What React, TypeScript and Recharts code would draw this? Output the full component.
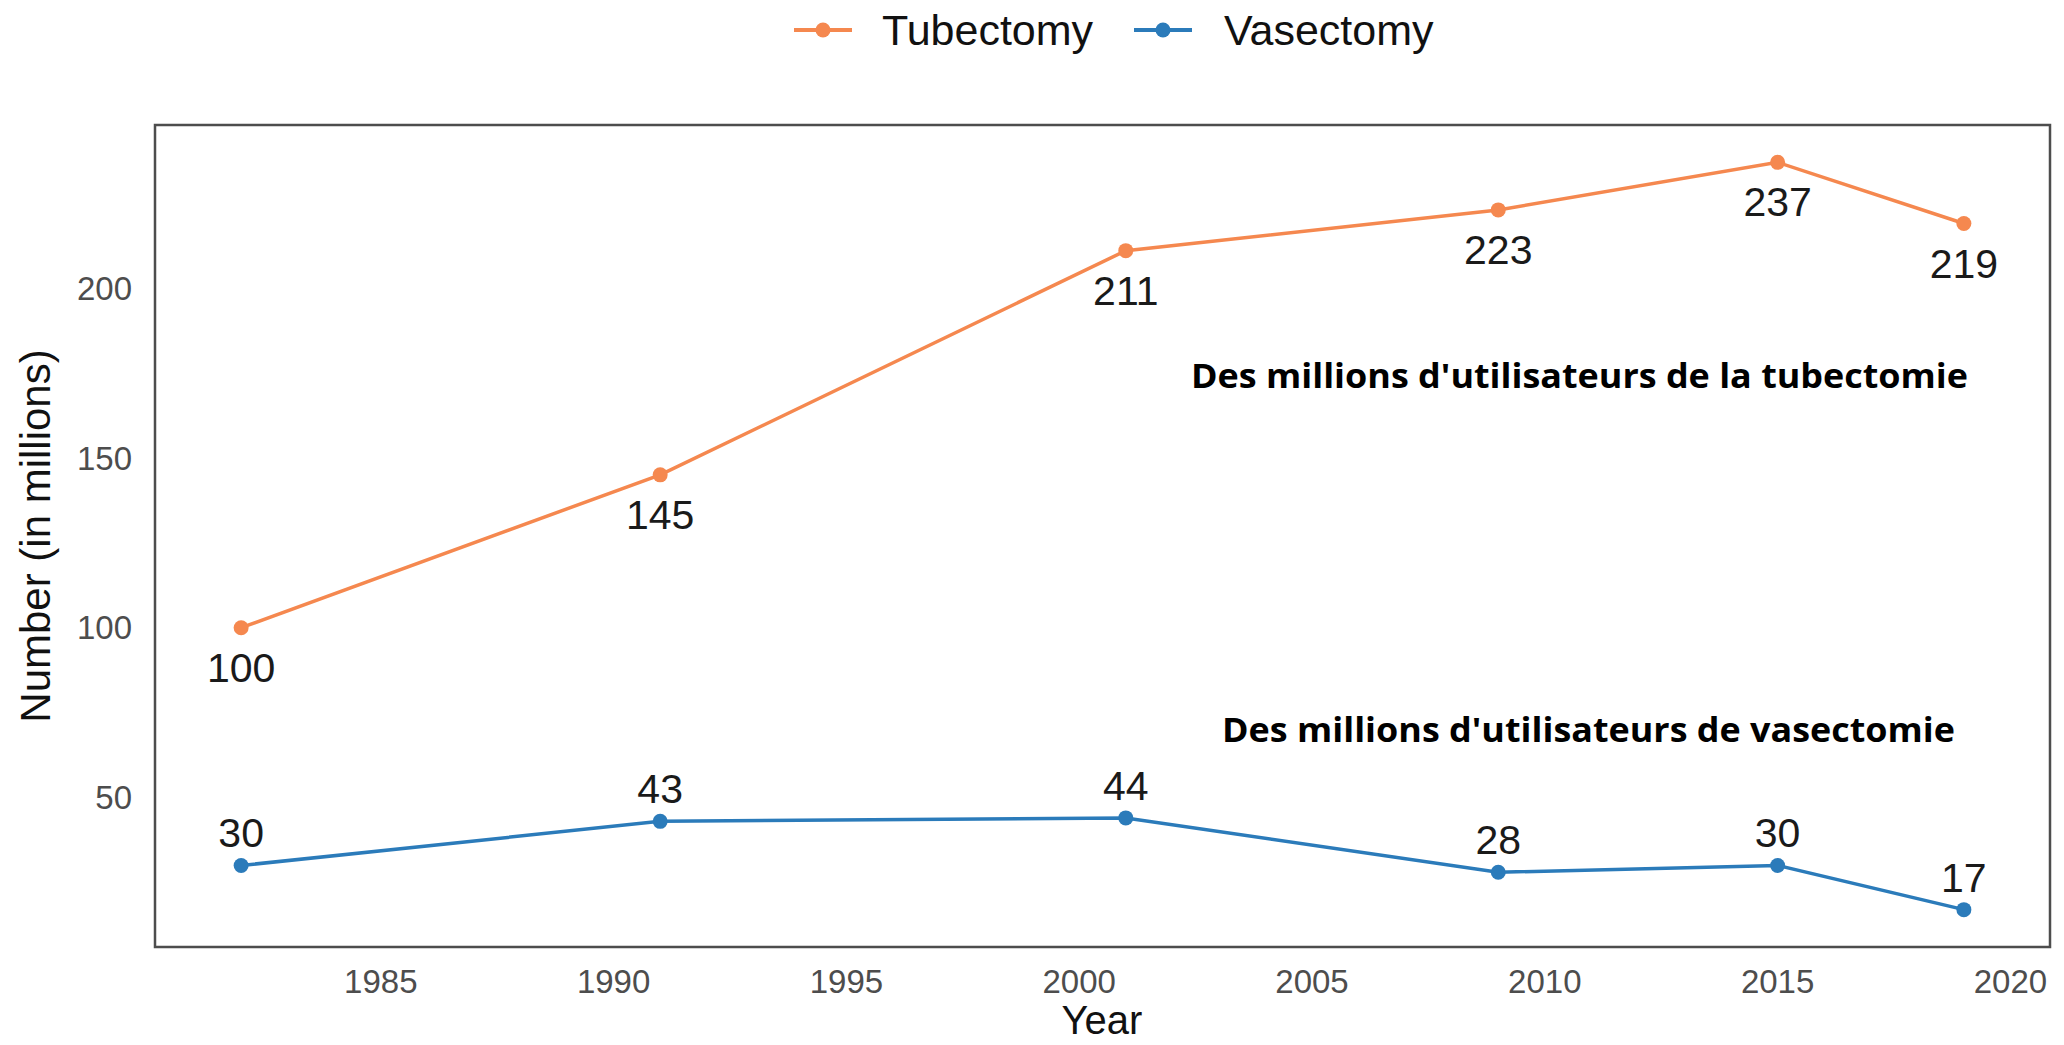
import { LineChart, Line, XAxis, YAxis, ReferenceArea, LabelList } from "recharts";

const years = [1982, 1991, 2001, 2009, 2015, 2019];
const tubectomy = [100, 145, 211, 223, 237, 219];
const vasectomy = [30, 43, 44, 28, 30, 17];
const xTicks = [1985, 1990, 1995, 2000, 2005, 2010, 2015, 2020];
const yTicks = [50, 100, 150, 200];
const xDomain: [number, number] = [1980.15, 2020.85];
const yDomain: [number, number] = [6, 248];

const ORANGE = "#F5884F";
const BLUE = "#2B7BBA";
const SANS = "'Liberation Sans', Arial, Helvetica, sans-serif";

const data = years.map((year, i) => ({
  year,
  tubectomy: tubectomy[i],
  vasectomy: vasectomy[i],
}));

// value labels: orange below the point, blue above
const makeLabel = (dy: number) => (props: any) => {
  const x = props.x ?? props.viewBox?.x;
  const y = props.y ?? props.viewBox?.y;
  return (
    <text x={x} y={y + dy} textAnchor="middle" fontSize={41} fill="#1a1a1a" fontFamily={SANS}>
      {props.value}
    </text>
  );
};

export default function App() {
  return (
    <div style={{ position: "absolute", left: 0, top: 0, width: 2064, height: 1045, background: "#fff" }}>
      <LineChart width={2064} height={1045} data={data} margin={{ top: 125, right: 14, bottom: 38, left: 75 }}>
        <ReferenceArea
          x1={xDomain[0]}
          x2={xDomain[1]}
          y1={yDomain[0]}
          y2={yDomain[1]}
          fill="none"
          stroke="#4d4d4d"
          strokeWidth={2.5}
        />
        <XAxis
          dataKey="year"
          type="number"
          domain={xDomain}
          ticks={xTicks}
          allowDataOverflow
          axisLine={false}
          tickLine={false}
          tickSize={6}
          tickMargin={17}
          height={60}
          tick={{ fontSize: 33, fill: "#4d4d4d", fontFamily: SANS }}
        />
        <YAxis
          type="number"
          domain={yDomain}
          ticks={yTicks}
          allowDataOverflow
          axisLine={false}
          tickLine={false}
          tickSize={6}
          tickMargin={17}
          width={80}
          tick={{ fontSize: 33, fill: "#4d4d4d", fontFamily: SANS }}
        />
        <Line
          dataKey="tubectomy"
          stroke={ORANGE}
          strokeWidth={3.5}
          dot={{ r: 7.5, fill: ORANGE, stroke: "none" }}
          isAnimationActive={false}
        >
          <LabelList dataKey="tubectomy" content={makeLabel(54)} />
        </Line>
        <Line
          dataKey="vasectomy"
          stroke={BLUE}
          strokeWidth={3.5}
          dot={{ r: 7.5, fill: BLUE, stroke: "none" }}
          isAnimationActive={false}
        >
          <LabelList dataKey="vasectomy" content={makeLabel(-18)} />
        </Line>
      </LineChart>

      <svg
        width={2064}
        height={1045}
        style={{ position: "absolute", left: 0, top: 0, pointerEvents: "none" }}
      >
        {/* legend */}
        <line x1={794} x2={852} y1={30} y2={30} stroke={ORANGE} strokeWidth={4} />
        <circle cx={823} cy={30} r={7.5} fill={ORANGE} />
        <text x={882} y={45} fontSize={43} fill="#111" fontFamily={SANS}>Tubectomy</text>
        <line x1={1134} x2={1192} y1={30} y2={30} stroke={BLUE} strokeWidth={4} />
        <circle cx={1163} cy={30} r={7.5} fill={BLUE} />
        <text x={1224} y={45} fontSize={43} fill="#111" fontFamily={SANS}>Vasectomy</text>

        {/* axis titles */}
        <text x={1102} y={1034} textAnchor="middle" fontSize={40} fill="#111" fontFamily={SANS}>Year</text>
        <text
          x={0}
          y={0}
          transform="translate(50 536) rotate(-90)"
          textAnchor="middle"
          fontSize={42}
          fill="#111"
          fontFamily={SANS}
        >
          Number (in millions)
        </text>

        {/* annotations */}
        <text
          x={1191}
          y={388}
          fontSize={34}
          fontWeight="bold"
          fill="#000"
          fontFamily="'Open Sans', sans-serif"
          textLength={777}
          lengthAdjust="spacingAndGlyphs"
        >
          Des millions d'utilisateurs de la tubectomie
        </text>
        <text
          x={1222}
          y={742}
          fontSize={34}
          fontWeight="bold"
          fill="#000"
          fontFamily="'Open Sans', sans-serif"
          textLength={733}
          lengthAdjust="spacingAndGlyphs"
        >
          Des millions d'utilisateurs de vasectomie
        </text>
      </svg>
    </div>
  );
}
